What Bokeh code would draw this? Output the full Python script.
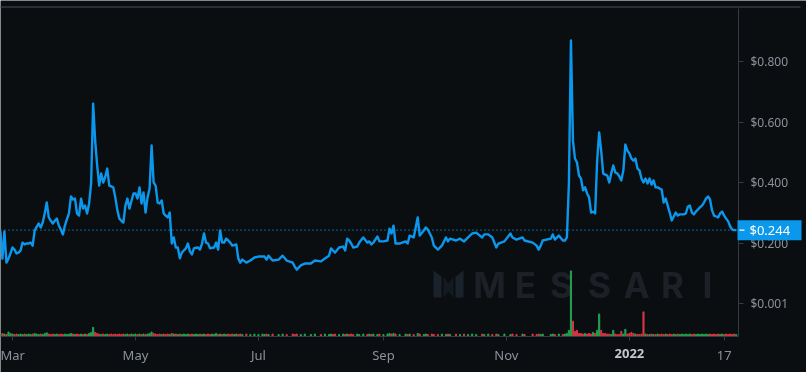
import pandas as pd
from bokeh.plotting import figure
from bokeh.models import (Range1d, FixedTicker, NumeralTickFormatter, Label,
                          BoxAnnotation, PolyAnnotation, ColumnDataSource)
from bokeh.embed import file_html
from bokeh.resources import INLINE

# ---------------- data ----------------
start_date = "2021-03-01"
days = [
    -6, -5, -4, -3, -2, -1, 0, 1, 2, 3,
    4, 5, 6, 7, 8, 9, 10, 11, 12, 13,
    14, 15, 16, 17, 18, 19, 20, 21, 22, 23,
    24, 25, 26, 27, 28, 29, 30, 31, 32, 33,
    34, 35, 36, 37, 38, 39, 40, 41, 42, 43,
    44, 45, 46, 47, 48, 49, 50, 51, 52, 53,
    54, 55, 56, 57, 58, 59, 60, 61, 62, 63,
    64, 65, 66, 67, 68, 69, 70, 71, 72, 73,
    74, 75, 76, 77, 78, 79, 80, 81, 82, 83,
    84, 85, 86, 87, 88, 89, 90, 91, 92, 93,
    94, 95, 96, 97, 98, 99, 100, 101, 102, 103,
    104, 105, 106, 107, 108, 109, 110, 111, 112, 113,
    114, 116, 118, 120, 122, 124, 125, 126, 127, 129,
    132, 134, 136, 139, 140, 141, 143, 145, 148, 150,
    153, 155, 157, 158, 159, 160, 162, 164, 165, 166,
    167, 168, 169, 171, 172, 174, 176, 177, 178, 179,
    181, 182, 184, 186, 187, 188, 189, 190, 192, 195,
    196, 197, 199, 201, 202, 204, 205, 206, 208, 209,
    211, 213, 215, 216, 217, 220, 222, 224, 226, 228,
    230, 233, 234, 236, 238, 240, 241, 244, 247, 248,
    250, 253, 254, 258, 260, 261, 262, 263, 267, 268,
    269, 271, 273, 274, 275, 276, 277, 278, 279, 280,
    281, 282, 283, 284, 285, 286, 287, 288, 289, 290,
    291, 292, 293, 294, 295, 296, 297, 298, 299, 300,
    301, 302, 303, 304, 305, 306, 307, 308, 309, 310,
    311, 312, 313, 314, 315, 316, 317, 318, 319, 320,
    321, 322, 323, 324, 325, 326, 327, 328, 329, 330,
    331, 332, 333, 334, 335, 336, 337, 338, 339, 340,
    341, 342, 343, 344, 345, 346, 347, 348, 349, 350,
    351, 352, 353, 354, 355, 356, 357, 358, 359,
]
price = [
    0.240, 0.150, 0.240, 0.137, 0.150, 0.167, 0.187, 0.180, 0.167, 0.170,
    0.177, 0.203, 0.197, 0.200, 0.200, 0.203, 0.193, 0.243, 0.255, 0.266,
    0.253, 0.269, 0.300, 0.335, 0.286, 0.275, 0.266, 0.275, 0.282, 0.259,
    0.245, 0.230, 0.259, 0.280, 0.299, 0.355, 0.345, 0.348, 0.299, 0.292,
    0.348, 0.315, 0.325, 0.299, 0.332, 0.398, 0.661, 0.539, 0.457, 0.391,
    0.431, 0.401, 0.420, 0.447, 0.391, 0.388, 0.385, 0.352, 0.310, 0.282,
    0.275, 0.269, 0.325, 0.348, 0.315, 0.340, 0.365, 0.365, 0.348, 0.385,
    0.332, 0.368, 0.302, 0.352, 0.381, 0.523, 0.401, 0.391, 0.335, 0.332,
    0.342, 0.299, 0.292, 0.286, 0.302, 0.200, 0.220, 0.187, 0.187, 0.151,
    0.170, 0.177, 0.184, 0.200, 0.174, 0.164, 0.184, 0.186, 0.187, 0.180,
    0.200, 0.233, 0.203, 0.200, 0.184, 0.186, 0.187, 0.203, 0.180, 0.243,
    0.203, 0.203, 0.216, 0.210, 0.203, 0.193, 0.195, 0.197, 0.151, 0.137,
    0.147, 0.137, 0.144, 0.154, 0.157, 0.157, 0.157, 0.147, 0.160, 0.144,
    0.147, 0.160, 0.144, 0.137, 0.124, 0.114, 0.128, 0.134, 0.134, 0.144,
    0.141, 0.151, 0.160, 0.184, 0.177, 0.170, 0.187, 0.190, 0.177, 0.216,
    0.210, 0.200, 0.187, 0.190, 0.203, 0.220, 0.203, 0.207, 0.197, 0.203,
    0.223, 0.207, 0.207, 0.210, 0.249, 0.233, 0.259, 0.200, 0.200, 0.207,
    0.200, 0.226, 0.220, 0.286, 0.226, 0.243, 0.253, 0.246, 0.220, 0.193,
    0.180, 0.193, 0.220, 0.207, 0.216, 0.210, 0.216, 0.207, 0.220, 0.233,
    0.236, 0.220, 0.230, 0.230, 0.220, 0.187, 0.200, 0.207, 0.233, 0.220,
    0.213, 0.220, 0.210, 0.203, 0.193, 0.180, 0.193, 0.210, 0.216, 0.230,
    0.213, 0.226, 0.210, 0.210, 0.220, 0.400, 0.869, 0.539, 0.480, 0.467,
    0.424, 0.414, 0.375, 0.385, 0.365, 0.352, 0.302, 0.305, 0.299, 0.473,
    0.566, 0.506, 0.431, 0.427, 0.424, 0.401, 0.431, 0.457, 0.434, 0.431,
    0.421, 0.408, 0.441, 0.526, 0.506, 0.497, 0.480, 0.473, 0.480, 0.447,
    0.441, 0.414, 0.401, 0.414, 0.398, 0.414, 0.394, 0.408, 0.385, 0.385,
    0.381, 0.378, 0.335, 0.348, 0.325, 0.302, 0.276, 0.289, 0.302, 0.292,
    0.296, 0.296, 0.296, 0.299, 0.322, 0.325, 0.302, 0.296, 0.305, 0.312,
    0.319, 0.325, 0.335, 0.348, 0.355, 0.345, 0.309, 0.292, 0.289, 0.286,
    0.299, 0.305, 0.292, 0.282, 0.273, 0.256, 0.246, 0.244, 0.244,
]
volume = [
    1.2, 1.5, 1.2, 1.0, 2.2, 1.5, 1.2, 1.0, 1.2, 1.0,
    1.2, 1.0, 1.2, 1.0, 1.2, 1.0, 1.2, 1.5, 1.2, 1.0,
    1.2, 1.0, 1.5, 1.8, 1.2, 1.0, 1.2, 1.0, 1.2, 1.0,
    1.2, 1.0, 1.2, 1.0, 1.2, 1.5, 1.2, 1.0, 1.2, 1.0,
    1.2, 1.0, 1.2, 1.0, 1.5, 2.0, 4.5, 2.0, 1.5, 1.2,
    1.0, 1.2, 1.0, 1.2, 1.0, 1.2, 1.0, 1.2, 1.0, 1.2,
    1.0, 1.2, 1.0, 1.2, 1.0, 1.2, 1.0, 1.2, 1.0, 1.2,
    1.0, 1.2, 1.0, 1.2, 1.5, 2.2, 1.5, 1.2, 1.0, 1.2,
    1.0, 1.2, 1.0, 1.2, 1.0, 1.5, 1.2, 1.2, 1.0, 1.2,
    1.0, 1.2, 1.0, 1.2, 1.0, 1.2, 1.0, 1.2, 1.0, 1.2,
    1.0, 1.2, 1.0, 1.2, 1.0, 1.2, 1.0, 1.5, 1.0, 1.2,
    1.0, 1.2, 1.0, 1.2, 1.0, 1.2, 1.0, 1.2, 1.0, 1.2,
    1.0, 1.2, 1.0, 1.2, 1.0, 1.2, 1.0, 1.2, 1.0, 1.2,
    1.0, 1.2, 1.0, 1.2, 1.0, 1.2, 1.0, 1.2, 1.0, 1.2,
    1.0, 1.2, 1.0, 1.2, 1.0, 1.2, 1.0, 1.2, 1.0, 1.2,
    1.0, 1.2, 1.0, 1.2, 1.0, 1.2, 1.0, 1.2, 1.0, 1.2,
    1.0, 1.2, 1.0, 1.2, 1.5, 1.2, 1.5, 1.2, 1.0, 1.2,
    1.0, 1.2, 1.0, 1.5, 1.2, 1.0, 1.2, 1.0, 1.2, 1.0,
    1.0, 1.2, 1.0, 1.2, 1.0, 1.2, 1.0, 1.2, 1.0, 1.2,
    1.0, 1.2, 1.0, 1.2, 1.0, 1.2, 1.0, 1.2, 1.0, 1.2,
    1.0, 1.2, 1.0, 1.2, 1.0, 1.2, 1.0, 1.2, 1.0, 1.2,
    1.0, 1.2, 1.0, 1.2, 1.5, 3.0, 32.0, 7.5, 2.5, 3.0,
    1.5, 1.5, 1.2, 1.5, 1.2, 1.5, 1.2, 2.0, 1.5, 3.0,
    11.0, 3.0, 1.5, 1.5, 1.2, 1.2, 1.0, 3.0, 1.2, 1.0,
    1.0, 2.5, 1.2, 3.5, 1.2, 1.5, 2.0, 1.5, 1.2, 1.0,
    1.0, 1.2, 12.0, 1.2, 1.0, 1.0, 1.2, 1.0, 1.0, 1.2,
    1.0, 1.2, 1.0, 1.2, 1.0, 1.2, 1.0, 1.2, 1.0, 1.2,
    1.0, 1.2, 1.0, 1.2, 1.0, 1.2, 1.0, 1.2, 1.0, 1.2,
    1.0, 1.2, 1.0, 1.2, 1.0, 1.2, 1.0, 1.2, 1.0, 1.2,
    1.0, 1.2, 1.0, 1.2, 1.0, 1.2, 1.0, 1.2, 1.0,
]
tick_dates = ["2021-03-01", "2021-05-01", "2021-07-01", "2021-09-01",
              "2021-11-01", "2022-01-01", "2022-02-17"]
tick_labels = ["Mar", "May", "Jul", "Sep", "Nov", "2022", "17"]
price_ticks = [0.001, 0.2, 0.4, 0.6, 0.8]
last_price = 0.244
watermark = ["M", "E", "S", "S", "A", "R", "I"]

# ---------------- helpers ----------------
EPOCH = pd.Timestamp("1970-01-01")
DAY_MS = 86400000.0


def to_ms(ts):
    return (pd.Timestamp(ts) - EPOCH) / pd.Timedelta(milliseconds=1)


t0 = to_ms(start_date)
xs = [t0 + d * DAY_MS for d in days]
up = "#23a24f"
down = "#d33845"
colors = [up] + [up if price[i] >= price[i - 1] else down for i in range(1, len(price))]
src = ColumnDataSource(dict(x=xs, price=price, vol=volume, color=colors))

BG = "#0b0e11"
AXIS = "#353a44"
TXT = "#8c919a"
BLUE = "#0b97ec"
WM = "#1d2127"

# frame covers the whole canvas; axes are pinned with fixed_location
X0 = t0 - 5.95 * DAY_MS          # left edge of canvas
X1 = t0 + 393.85 * DAY_MS        # right edge of canvas
XAX = t0 + 360.12 * DAY_MS       # where the price axis sits
Y0, Y1 = -0.2250, 1.0007         # bottom / top of canvas
YAX = -0.1064                    # where the time axis sits
YTOP = 0.9743                    # top of the chart area

p = figure(width=806, height=372, x_axis_type="datetime",
           x_range=Range1d(X0, X1), y_range=Range1d(Y0, Y1),
           y_axis_location="right",
           toolbar_location=None, output_backend="svg",
           min_border_left=0, min_border_right=0,
           min_border_top=0, min_border_bottom=0)
p.styles = {"position": "fixed", "left": "0px", "top": "0px"}
p.background_fill_color = BG
p.border_fill_color = BG
p.outline_line_color = None
p.grid.visible = False

p.extra_y_ranges = {"vol": Range1d(-17.56, 163.9)}

# watermark: logo mark + letters
logo_polys = [
    ([433, 441, 441, 433], [270, 276, 297, 297], "#1a222c"),
    ([443, 448, 453, 453, 448, 443], [276, 283, 276, 297, 291, 297], "#141a21"),
    ([455, 463, 463, 455], [276, 270, 297, 297], "#1a222c"),
]
for pxs, pys, col in logo_polys:
    p.add_layout(PolyAnnotation(xs=pxs, ys=pys, xs_units="canvas", ys_units="canvas",
                                fill_color=col, fill_alpha=1, line_alpha=0,
                                level="underlay"))
wm_x = [489, 525, 561, 599, 636, 672, 707]
for ch, wx in zip(watermark, wm_x):
    p.add_layout(Label(x=wx, y=284, x_units="canvas", y_units="canvas", text=ch,
                       text_align="center", text_baseline="middle",
                       text_font="Inter", text_font_style="bold",
                       text_font_size="35px", text_color=WM, level="underlay"))

# volume bars
p.vbar(x="x", top="vol", bottom=0, width=0.55 * DAY_MS, color="color", source=src,
       y_range_name="vol")

# last-price dotted line
p.segment(x0=[X0], y0=[last_price], x1=[XAX], y1=[last_price], line_color=BLUE,
          line_dash="1 3", line_width=1.2)

# price line
p.line(x="x", y="price", source=src, line_color=BLUE, line_width=2.4,
       line_join="round")

# axes
xa = p.xaxis[0]
tick_ms = [to_ms(d) for d in tick_dates]
xa.fixed_location = YAX
xa.bounds = (X0, XAX)
xa.ticker = FixedTicker(ticks=tick_ms)
xa.major_label_overrides = {t: (lab if lab != "2022" else "") for t, lab in zip(tick_ms, tick_labels)}
xa.axis_line_color = AXIS
xa.major_tick_line_color = AXIS
xa.major_tick_in = 0
xa.major_tick_out = 4
xa.minor_tick_line_color = None
xa.major_label_text_color = TXT
xa.major_label_text_font = "Noto Sans"
xa.major_label_text_font_size = "13px"
xa.major_label_standoff = 5

ya = p.yaxis[0]
ya.fixed_location = XAX
ya.bounds = (YAX, YTOP)
ya.ticker = FixedTicker(ticks=price_ticks)
ya.formatter = NumeralTickFormatter(format="$0.000")
ya.axis_line_color = AXIS
ya.major_tick_line_color = AXIS
ya.major_tick_in = 0
ya.major_tick_out = 5
ya.minor_tick_line_color = None
ya.major_label_text_color = TXT
ya.major_label_text_font = "Noto Sans"
ya.major_label_text_font_size = "12px"
ya.major_label_standoff = 7

# bold year label
p.add_layout(Label(x=tick_ms[5], y=353, y_units="canvas", text="2022",
                   text_align="center", text_baseline="middle",
                   text_font="Noto Sans", text_font_style="bold",
                   text_font_size="13px", text_color="#c4c8cf"))

# top border line
p.add_layout(BoxAnnotation(left=0, right=800, top=5.5, bottom=7.5,
                           left_units="canvas", right_units="canvas",
                           top_units="canvas", bottom_units="canvas",
                           fill_color="#2a2e36", fill_alpha=1, line_alpha=0))

# last price tag
half = 10 * (Y1 - Y0) / 372
p.add_layout(BoxAnnotation(left=737, right=801, top=last_price + half, bottom=last_price - half,
                           left_units="canvas", right_units="canvas",
                           fill_color=BLUE, fill_alpha=1, line_alpha=0))
p.add_layout(Label(x=749, y=last_price, x_units="canvas", text=f"${last_price:.3f}",
                   text_align="left", text_baseline="middle",
                   text_font="Noto Sans", text_font_size="13px", text_color="#ffffff"))
tick_h = 0.6 * (Y1 - Y0) / 372
p.add_layout(BoxAnnotation(left=739, right=744, top=last_price + tick_h, bottom=last_price - tick_h,
                           left_units="canvas", right_units="canvas",
                           fill_color="#ffffff", fill_alpha=1, line_alpha=0))

open("out.html", "w").write(file_html(p, INLINE))
